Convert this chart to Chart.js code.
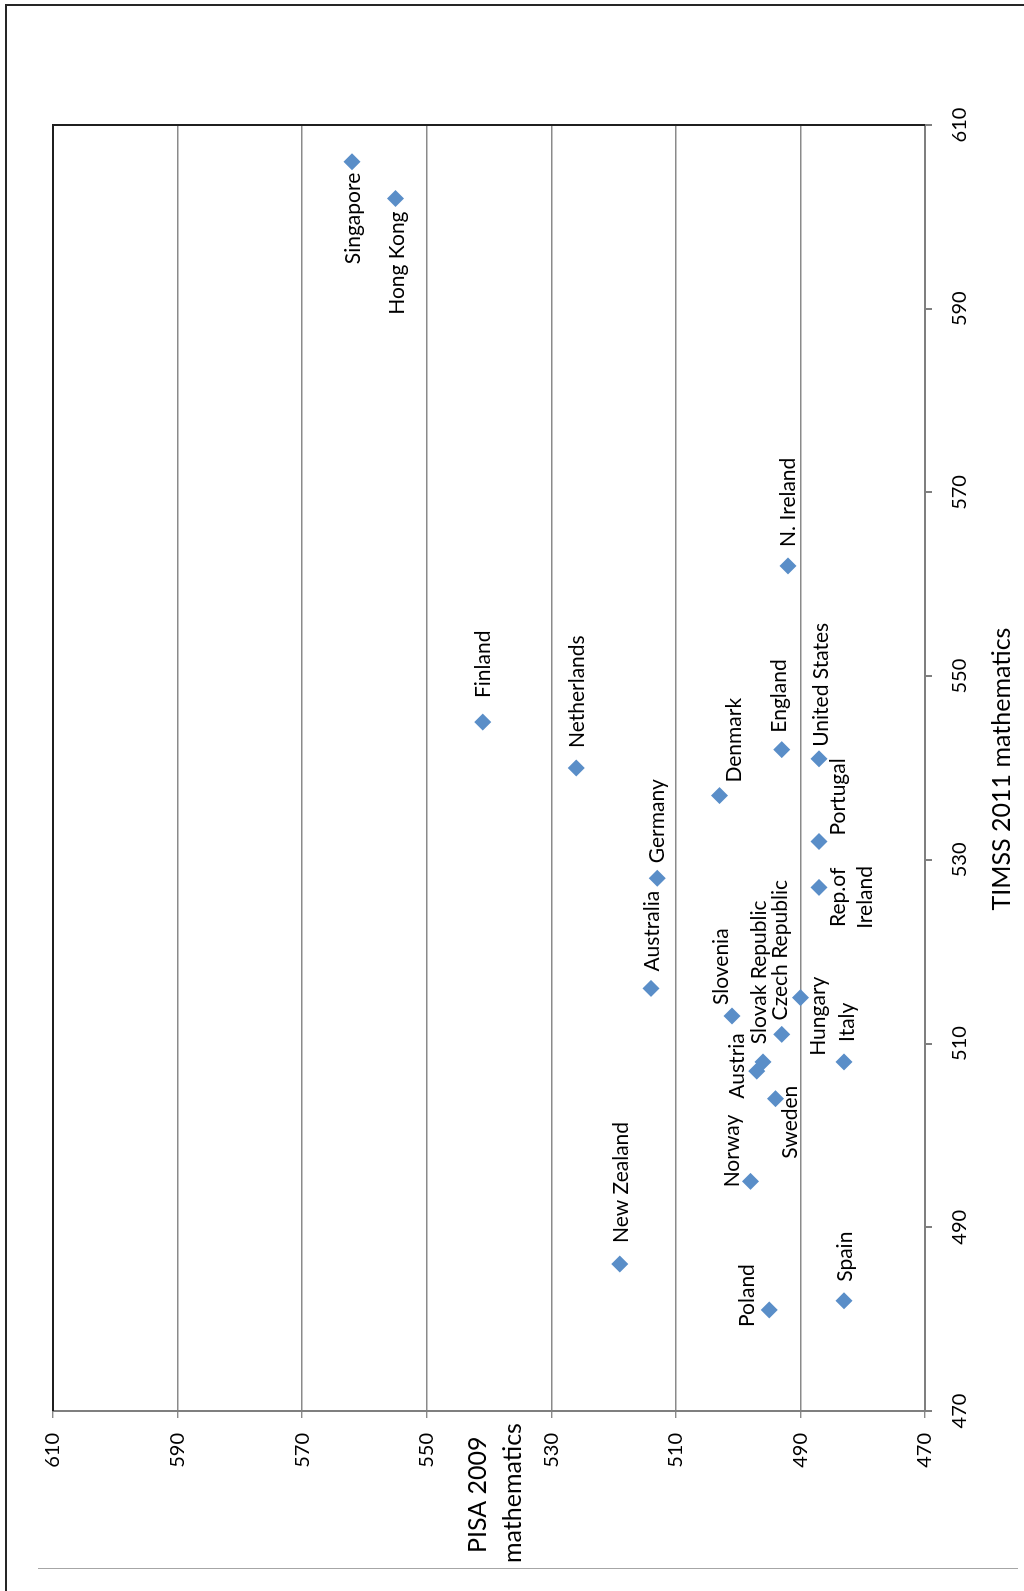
<!DOCTYPE html>
<html>
<head>
<meta charset="utf-8">
<script src="https://cdn.jsdelivr.net/npm/chart.js@4.4.0/dist/chart.umd.min.js"></script>
<style>
html, body { margin: 0; padding: 0; background: #fff; overflow: hidden; }
body { width: 1024px; height: 1591px; position: relative; }
/* the whole chart is turned a quarter turn to the left, like the printed page */
#turn { position: absolute; left: 0; top: 0; width: 1591px; height: 1024px;
        transform-origin: 0 0; transform: translate(0, 1591px) rotate(-90deg); }
#frame { position: absolute; left: 5px; top: 4px; right: -20px; bottom: -20px;
         border-left: 2px solid #262626; border-top: 2px solid #262626; }
#rule { position: absolute; left: 38px; top: 1568px; width: 980px; height: 0;
        border-top: 1px solid #a6a6a6; }
</style>
</head>
<body>
<div id="frame"></div>
<div id="rule"></div>
<div id="turn"><canvas id="myChart" width="1591" height="1024"></canvas></div>
<script>
// data
const countries = ['Singapore', 'Hong Kong', 'N. Ireland', 'Finland', 'Netherlands', 'Denmark',
  'England', 'United States', 'Portugal', 'Germany', 'Rep.of\nIreland', 'Australia', 'Hungary',
  'Slovenia', 'Czech Republic', 'Slovak Republic', 'Austria', 'Italy', 'Sweden', 'Norway',
  'New Zealand', 'Poland', 'Spain'];
const timss = [606, 602, 562, 545, 540, 537, 542, 541, 532, 528, 527, 516, 515,
  513, 511, 507, 508, 508, 504, 495, 486, 481, 482];
const pisa = [562, 555, 492, 541, 526, 503, 493, 487, 487, 513, 487, 514, 490,
  501, 493, 497, 496, 483, 494, 498, 519, 495, 483];
const tickValues = [470, 490, 510, 530, 550, 570, 590, 610];

// where each name sits next to its point, in page pixels (up = text runs upward from anchor)
const labelAlign = ['down', 'down', 'up', 'up', 'up', 'up', 'up', 'up', 'up', 'up', 'mid', 'up', 'down',
  'up', 'up', 'up', 'mid', 'up', 'down', 'up', 'up', 'up', 'up'];
const labelDx = [1, 2, 0, 0, 1, 15, -3, 2, 19, 0, 33, 1, 18, -11, -2, 2, -26, 3, 15, -18, 1, -22, 1];
const labelDy = [11, 13, -19, -24, -20, -13, -17, -12, -6, -15, 10, -17, -21, -11, -14, -27, 4, -20, -13, 6, -21, 17, -19];

const fontName = 'Lato, "Open Sans", sans-serif';

const pointLabels = {
  id: 'pointLabels',
  afterDatasetsDraw(chart) {
    const ctx = chart.ctx;
    const meta = chart.getDatasetMeta(0);
    ctx.save();
    ctx.font = '21px ' + fontName;
    ctx.fillStyle = '#000';
    ctx.textBaseline = 'middle';
    meta.data.forEach((pt, i) => {
      const u = pt.x - labelDy[i];
      const v = pt.y + labelDx[i];
      ctx.textAlign = {up: 'left', down: 'right', mid: 'center'}[labelAlign[i]];
      const lines = countries[i].split('\n');
      lines.forEach((line, k) => {
        ctx.fillText(line, u, v + (k - (lines.length - 1) / 2) * 27);
      });
    });
    ctx.restore();
  }
};

const plotEdge = {
  id: 'plotEdge',
  beforeDatasetsDraw(chart) {
    const ctx = chart.ctx;
    const a = chart.chartArea;
    ctx.save();
    ctx.strokeStyle = '#1f1f1f';
    ctx.lineWidth = 2;
    ctx.beginPath();
    ctx.moveTo(a.left, a.top);
    ctx.lineTo(a.right, a.top);
    ctx.lineTo(a.right, a.bottom);
    ctx.stroke();
    ctx.restore();
  },
  afterDraw(chart) {
    const ctx = chart.ctx;
    ctx.save();
    ctx.fillStyle = '#000';
    ctx.textBaseline = 'middle';
    ctx.font = '25px ' + fontName;
    ctx.textAlign = 'center';
    ctx.fillText('TIMSS 2011 mathematics', 822, 1002);
    ctx.textAlign = 'left';
    ctx.fillText('PISA 2009', 38, 478);
    ctx.fillText('mathematics', 28, 513);
    ctx.restore();
  }
};

const myChart = new Chart(document.getElementById('myChart').getContext('2d'), {
  type: 'scatter',
  data: {
    datasets: [{
      label: 'countries',
      data: timss.map((t, i) => ({x: t, y: pisa[i]})),
      pointStyle: 'rectRot',
      pointRadius: 8.5,
      pointHoverRadius: 8.5,
      backgroundColor: '#5a8ec8',
      borderColor: '#5a8ec8',
      borderWidth: 0
    }]
  },
  options: {
    responsive: false,
    animation: false,
    events: [],
    layout: {padding: {left: 0, right: 125, top: 53, bottom: 0}},
    plugins: {legend: {display: false}, tooltip: {enabled: false}},
    scales: {
      x: {
        type: 'linear', position: 'bottom', min: 470, max: 610,
        afterBuildTicks: s => { s.ticks = tickValues.map(v => ({value: v})); },
        afterFit: s => { s.height = 99; },
        grid: {drawOnChartArea: false, drawTicks: true, tickLength: 7, color: '#7f7f7f', lineWidth: 2},
        border: {display: true, color: '#7f7f7f', width: 2},
        ticks: {color: '#000', padding: 16, maxRotation: 0, font: {family: fontName, size: 20}}
      },
      y: {
        type: 'linear', position: 'left', min: 470, max: 610,
        afterBuildTicks: s => { s.ticks = tickValues.map(v => ({value: v})); },
        afterFit: s => { s.width = 180; },
        grid: {color: '#8a8a8a', lineWidth: 1.4, drawTicks: true, tickLength: 7},
        border: {display: true, color: '#7f7f7f', width: 2},
        ticks: {color: '#000', padding: 15, font: {family: fontName, size: 20}}
      }
    }
  },
  plugins: [plotEdge, pointLabels]
});
</script>
</body>
</html>
